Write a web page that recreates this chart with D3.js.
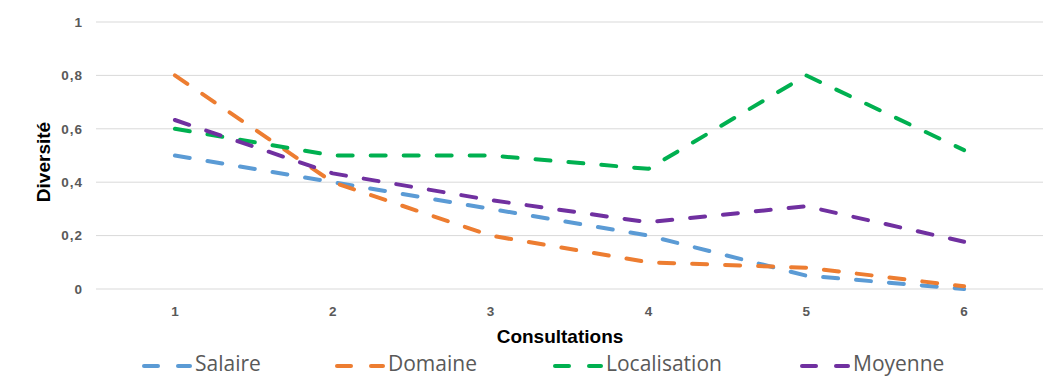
<!DOCTYPE html>
<html><head><meta charset="utf-8">
<script src="https://cdn.jsdelivr.net/npm/d3@7"></script>
<style>body{margin:0;background:#fff;}svg{display:block;}</style>
</head><body>
<svg id="c" width="1053" height="378"></svg>
<script>
const categories = ["1","2","3","4","5","6"];
const salaire = [0.5, 0.4, 0.3, 0.2, 0.05, 0.0];
const domaine = [0.8, 0.4, 0.2, 0.1, 0.08, 0.01];
const localisation = [0.6, 0.5, 0.5, 0.45, 0.8, 0.52];
const moyenne = [0.633, 0.433, 0.333, 0.25, 0.31, 0.177];
const seriesNames = ["Salaire","Domaine","Localisation","Moyenne"];
const yTicks = [0, 0.2, 0.4, 0.6, 0.8, 1];
const colors = ["#5B9BD5","#ED7D31","#00B050","#7030A0"];
const seriesData = [salaire, domaine, localisation, moyenne];

(function () {
const svg = d3.select("#c");
const mL = 96, mR = 1043, mT = 22, mB = 289;
const x = d3.scaleBand().domain(categories).range([mL, mR]);
const y = d3.scaleLinear().domain([0, 1]).range([mB, mT]);
const fmt = v => String(v).replace(".", ",");

svg.append("g").selectAll("line").data(yTicks).join("line")
  .attr("x1", mL).attr("x2", mR)
  .attr("y1", d => y(d)).attr("y2", d => y(d))
  .attr("stroke", "#D9D9D9").attr("stroke-width", 1);

const yAxis = d3.axisLeft(y).tickValues(yTicks).tickFormat(fmt).tickSize(0).tickPadding(0);
const ya = svg.append("g").attr("transform", "translate(83,0)").call(yAxis);
ya.select(".domain").remove();
ya.selectAll("text").attr("font-family", "Liberation Sans, Arial, sans-serif")
  .attr("font-weight", "bold").attr("font-size", 13.5).attr("fill", "#595959")
  .attr("letter-spacing", 1);

const xAxis = d3.axisBottom(x).tickSize(0).tickPadding(0);
const xa = svg.append("g").attr("transform", "translate(0,306)").call(xAxis);
xa.select(".domain").remove();
xa.selectAll("text").attr("font-family", "Liberation Sans, Arial, sans-serif")
  .attr("font-weight", "bold").attr("font-size", 13.5).attr("fill", "#595959");

svg.append("text").attr("x", 560).attr("y", 343).attr("text-anchor", "middle")
  .attr("font-family", "Liberation Sans, Arial, sans-serif").attr("font-weight", "bold")
  .attr("font-size", 19).attr("fill", "#000").text("Consultations");
svg.append("text").attr("transform", "translate(50,162) rotate(-90)").attr("text-anchor", "middle")
  .attr("font-family", "Liberation Sans, Arial, sans-serif").attr("font-weight", "bold")
  .attr("font-size", 19).attr("fill", "#000").text("Diversité");

const line = d3.line().x((d, i) => x(categories[i]) + x.bandwidth() / 2).y(d => y(d));
svg.append("g").selectAll("path").data(seriesData).join("path")
  .attr("d", d => line(d)).attr("fill", "none")
  .attr("stroke", (d, i) => colors[i]).attr("stroke-width", 4)
  .attr("stroke-dasharray", "15,18").attr("stroke-linecap", "round")
  .attr("stroke-linejoin", "round");

const legendStarts = [142, 335, 553, 800];
const lg = svg.append("g");
seriesNames.forEach((name, i) => {
  const x0 = legendStarts[i], ly = 366;
  const g = lg.append("g");
  g.append("line").attr("x1", x0 + 2).attr("x2", x0 + 16).attr("y1", ly).attr("y2", ly)
    .attr("stroke", colors[i]).attr("stroke-width", 4).attr("stroke-linecap", "round");
  g.append("line").attr("x1", x0 + 36).attr("x2", x0 + 48).attr("y1", ly).attr("y2", ly)
    .attr("stroke", colors[i]).attr("stroke-width", 4).attr("stroke-linecap", "round");
  g.append("text").attr("x", x0 + 53).attr("y", ly + 5)
    .attr("font-family", "Open Sans, sans-serif").attr("font-size", 21)
    .attr("fill", "#595959").text(name);
});
})();
</script>
</body></html>
